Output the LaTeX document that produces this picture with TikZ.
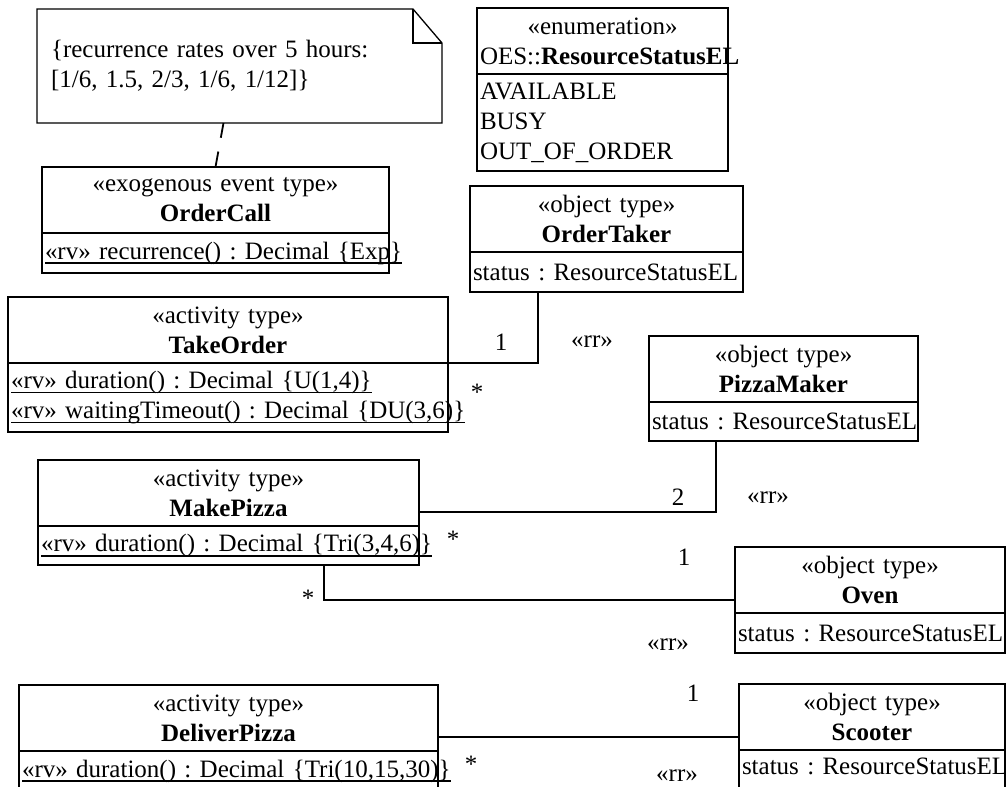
\documentclass[tikz,border=0pt]{standalone}
\usepackage{fontspec}
\setmainfont{Liberation Serif}
\usepackage{tikz}
\usetikzlibrary{calc}
\newcommand\ulattr[1]{\leavevmode\setbox0\hbox{#1}\rlap{\rule[-5pt]{\wd0}{1.8pt}}\box0}
\tikzset{
  cls/.style={draw, line width=1.8pt, inner xsep=3pt, inner ysep=0pt, outer sep=0pt, minimum width=#1, text width=#1-6, anchor=north west},
  clshead/.style={cls=#1, align=center, minimum height=66},
  clsbody/.style={cls=#1, align=left},
  assoc/.style={line width=1.3pt},
  notebox/.style={inner xsep=14pt, inner ysep=0pt, outer sep=0pt, minimum width=405, minimum height=114, text width=377, align=left, anchor=north west},
  noteline/.style={line width=1.3pt},
  notelink/.style={line width=1.8pt, dash pattern=on 15pt off 14pt},
  mult/.style={inner sep=0pt}
}

\begin{document}
\begin{tikzpicture}[x=1pt,y=-1pt,font=\fontsize{25}{30}\selectfont\frenchspacing]
  \useasboundingbox (0,0) rectangle (1007,787);

  \node[notebox] (note) at (37,9) {\mbox{\{recurrence rates over 5 hours:}\\\mbox{[1/6, 1.5, 2/3, 1/6, 1/12]\}}};
  \draw[noteline] (note.north west) -- ($(note.north east)+(-29,0)$) -- ($(note.north east)+(0,34)$) -- (note.south east) -- (note.south west) -- cycle;
  \draw[noteline] ($(note.north east)+(-29,0)$) |- ($(note.north east)+(0,34)$);

  \node[clshead=251] (enum) at (477,8) {«enumeration»\\\mbox{OES::\textbf{ResourceStatusEL}}};
  \node[clsbody=251, minimum height=97] (enum-a) at (enum.south west) {AVAILABLE\\BUSY\\OUT\_OF\_ORDER};

  \node[clshead=347] (ordercall) at (42,167) {«exogenous event type»\\\textbf{OrderCall}};
  \node[clsbody=347, minimum height=40] (ordercall-a) at (ordercall.south west) {\ulattr{«rv» recurrence() : Decimal \{Exp\}}};

  \node[clshead=273] (ordertaker) at (470,186) {«object type»\\\textbf{OrderTaker}};
  \node[clsbody=273, minimum height=40] (ordertaker-a) at (ordertaker.south west) {\mbox{status : ResourceStatusEL}};

  \node[clshead=440] (takeorder) at (8,297) {«activity type»\\\textbf{TakeOrder}};
  \node[clsbody=440, minimum height=69] (takeorder-a) at (takeorder.south west) {\ulattr{«rv» duration() : Decimal \{U(1,4)\}}\\\ulattr{«rv» waitingTimeout() : Decimal \{DU(3,6)\}}};

  \node[clshead=269] (pizzamaker) at (649,336) {«object type»\\\textbf{PizzaMaker}};
  \node[clsbody=269, minimum height=39] (pizzamaker-a) at (pizzamaker.south west) {\mbox{status : ResourceStatusEL}};

  \node[clshead=381] (makepizza) at (38,460) {«activity type»\\\textbf{MakePizza}};
  \node[clsbody=381, minimum height=39] (makepizza-a) at (makepizza.south west) {\ulattr{«rv» duration() : Decimal \{Tri(3,4,6)\}}};

  \node[clshead=270] (oven) at (735,547) {«object type»\\\textbf{Oven}};
  \node[clsbody=270, minimum height=40] (oven-a) at (oven.south west) {\mbox{status : ResourceStatusEL}};

  \node[clshead=419] (deliverpizza) at (19,685) {«activity type»\\\textbf{DeliverPizza}};
  \node[clsbody=419, minimum height=40] (deliverpizza-a) at (deliverpizza.south west) {\ulattr{«rv» duration() : Decimal \{Tri(10,15,30)\}}};

  \node[clshead=266] (scooter) at (739,684) {«object type»\\\textbf{Scooter}};
  \node[clsbody=266, minimum height=40, text depth=7pt] (scooter-a) at (scooter.south west) {\mbox{status : ResourceStatusEL}};

  \draw[notelink] ($(note.south)+(-16,0)$) -- (ordercall.north);
  \draw[assoc] ($(ordertaker-a.south west)+(68,0)$) |- (takeorder-a.north east);
  \draw[assoc] ($(pizzamaker-a.south west)+(67,0)$) |- ($(makepizza.south east)+(0,-14)$);
  \draw[assoc] ($(makepizza-a.south west)+(286,0)$) |- ($(oven.south west)+(0,-13)$);
  \draw[assoc] ($(deliverpizza.south east)+(0,-14)$) -- ($(scooter.south west)+(0,-13)$);

  \node[mult] (ot-one) at (501,342) {1};
  \node[mult] (ot-rr) at (592,342) {«rr»};
  \node[mult] (ot-many) at (477,392) {*};
  \node[mult] (pm-two) at (678,497) {2};
  \node[mult] (pm-rr) at (768,498) {«rr»};
  \node[mult] (pm-many) at (453,539) {*};
  \node[mult] (ov-many) at (308,598) {*};
  \node[mult] (ov-one) at (684,557) {1};
  \node[mult] (ov-rr) at (668,645) {«rr»};
  \node[mult] (sc-one) at (693,693) {1};
  \node[mult] (sc-many) at (471,764) {*};
  \node[mult] (sc-rr) at (677,776) {«rr»};
\end{tikzpicture}
\end{document}
